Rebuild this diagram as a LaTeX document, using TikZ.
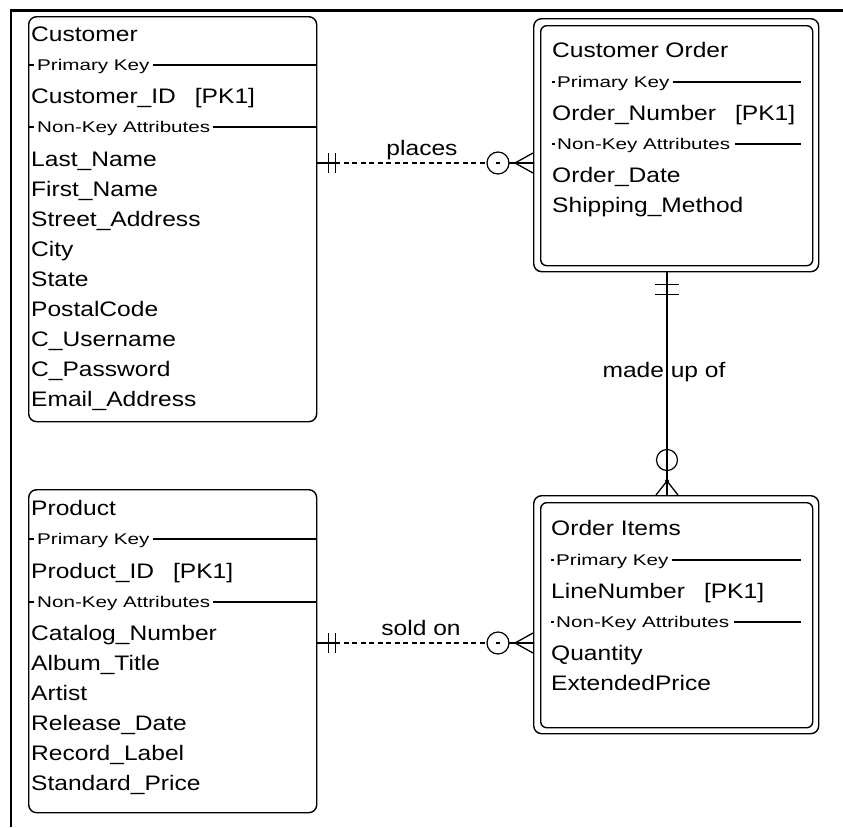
\documentclass[tikz,border=0pt]{standalone}
\usepackage{fontspec}
\setmainfont{Liberation Sans}[FakeStretch=1.17]
\newfontfamily\smallfam{Liberation Sans}[FakeStretch=1.33]
\usetikzlibrary{calc}
\begin{document}
\begin{tikzpicture}[x=1pt,y=-1pt,
  ent/.style={draw=black, line width=1.4pt, rounded corners=8pt, anchor=north west, inner sep=0pt},
  entin/.style={draw=black, line width=1.4pt, rounded corners=6pt, anchor=north west, inner sep=0pt},
  txt/.style={anchor=base west, inner sep=0pt, font=\fontsize{21pt}{25pt}\selectfont},
  sml/.style={anchor=base west, inner sep=0pt, font=\smallfam\fontsize{15.5pt}{18pt}\selectfont},
  sepline/.style={draw=black, line width=1.3pt},
  rel/.style={draw=black, line width=1.3pt},
  dsh/.style={draw=black, line width=1.3pt, dash pattern=on 5pt off 3.5pt},
  lbl/.style={anchor=base, inner sep=0pt, font=\fontsize{21pt}{25pt}\selectfont}
]
\useasboundingbox (0,0) rectangle (843,827);
\draw[line width=2.5pt, line join=miter] (11,827) -- (11,10.5) -- (843,10.5);

% ---------- Customer ----------
\node[ent, minimum width=288pt, minimum height=405pt] (cust) at (28,16) {};
\node[txt] (cust-t) at (31,41.5) {Customer};
\node[sml] (cust-pk) at (37,70) {Primary Key};
\draw[sepline] (28,65) -- (34,65);
\draw[sepline] ($(cust-pk.base east)+(3,-5)$) -- (316,65);
\node[txt] (cust-k) at (31,103) {Customer\_ID\hspace{19pt}[PK1]};
\node[sml] (cust-nk) at (37,132) {Non-Key Attributes};
\draw[sepline] (28,127) -- (34,127);
\draw[sepline] ($(cust-nk.base east)+(3,-5)$) -- (316,127);
\node[txt] (cust-a1) at (31,166) {Last\_Name};
\node[txt] (cust-a2) at (31,196) {First\_Name};
\node[txt] (cust-a3) at (31,226) {Street\_Address};
\node[txt] (cust-a4) at (31,256) {City};
\node[txt] (cust-a5) at (31,286) {State};
\node[txt] (cust-a6) at (31,316) {PostalCode};
\node[txt] (cust-a7) at (31,346) {C\_Username};
\node[txt] (cust-a8) at (31,376) {C\_Password};
\node[txt] (cust-a9) at (31,406) {Email\_Address};

% ---------- Product ----------
\node[ent, minimum width=288pt, minimum height=323pt] (prod) at (28,489) {};
\node[txt] (prod-t) at (31,515) {Product};
\node[sml] (prod-pk) at (37,544) {Primary Key};
\draw[sepline] (28,539) -- (34,539);
\draw[sepline] ($(prod-pk.base east)+(3,-5)$) -- (316,539);
\node[txt] (prod-k) at (31,578) {Product\_ID\hspace{19pt}[PK1]};
\node[sml] (prod-nk) at (37,607) {Non-Key Attributes};
\draw[sepline] (28,602) -- (34,602);
\draw[sepline] ($(prod-nk.base east)+(3,-5)$) -- (316,602);
\node[txt] (prod-a1) at (31,640) {Catalog\_Number};
\node[txt] (prod-a2) at (31,670) {Album\_Title};
\node[txt] (prod-a3) at (31,700) {Artist};
\node[txt] (prod-a4) at (31,730) {Release\_Date};
\node[txt] (prod-a5) at (31,760) {Record\_Label};
\node[txt] (prod-a6) at (31,790) {Standard\_Price};

% ---------- Customer Order ----------
\node[ent, minimum width=285pt, minimum height=253pt] (co) at (533,18) {};
\node[entin, minimum width=272pt, minimum height=240pt] (co-in) at (540,25) {};
\node[txt] (co-t) at (552,57) {Customer Order};
\node[sml] (co-pk) at (557,87) {Primary Key};
\draw[sepline] (552,82) -- (555,82);
\draw[sepline] ($(co-pk.base east)+(3,-5)$) -- (801,82);
\node[txt] (co-k) at (552,120) {Order\_Number\hspace{19pt}[PK1]};
\node[sml] (co-nk) at (557,149) {Non-Key Attributes};
\draw[sepline] (552,144) -- (555,144);
\draw[sepline] ($(co-nk.base east)+(5,-5)$) -- (801,144);
\node[txt] (co-a1) at (552,182) {Order\_Date};
\node[txt] (co-a2) at (552,212) {Shipping\_Method};

% ---------- Order Items ----------
\node[ent, minimum width=285pt, minimum height=238pt] (oi) at (533,495) {};
\node[entin, minimum width=272pt, minimum height=225pt] (oi-in) at (540,502) {};
\node[txt] (oi-t) at (551,535) {Order Items};
\node[sml] (oi-pk) at (556,565) {Primary Key};
\draw[sepline] (551,560) -- (554,560);
\draw[sepline] ($(oi-pk.base east)+(3,-5)$) -- (801,560);
\node[txt] (oi-k) at (551,598) {LineNumber\hspace{19pt}[PK1]};
\node[sml] (oi-nk) at (556,627) {Non-Key Attributes};
\draw[sepline] (551,622) -- (554,622);
\draw[sepline] ($(oi-nk.base east)+(5,-5)$) -- (801,622);
\node[txt] (oi-a1) at (551,660) {Quantity};
\node[txt] (oi-a2) at (551,690) {ExtendedPrice};

% ---------- places ----------
\coordinate (py) at (0,163);
\path (cust.east |- py) coordinate (pa) (co.west |- py) coordinate (pb);
\node[lbl] (places) at (422,155) {places};
\draw[rel] (pa) -- ($(pa)+(18,0)$);
\draw[rel] ($(pa)+(11,-10)$) -- ($(pa)+(11,10)$);
\draw[rel] ($(pa)+(18,-10)$) -- ($(pa)+(18,10)$);
\draw[dsh] ($(pa)+(18,0)$) -- ($(pb)+(-46,0)$);
\draw[rel, line width=1.2pt] ($(pb)+(-35,0)$) circle[radius=11pt];
\draw[rel] ($(pb)+(-37,0)$) -- ($(pb)+(-33,0)$);
\draw[rel] ($(pb)+(-24,0)$) -- ($(pb)+(-18,0)$);
\draw[rel] ($(pb)+(0,-10)$) -- ($(pb)+(-18,0)$) -- ($(pb)+(0,10)$);
\draw[rel] ($(pb)+(-18,0)$) -- (pb);

% ---------- sold on ----------
\coordinate (sy) at (0,643);
\path (prod.east |- sy) coordinate (sa) (oi.west |- sy) coordinate (sb);
\node[lbl] (soldon) at (421,635) {sold on};
\draw[rel] (sa) -- ($(sa)+(18,0)$);
\draw[rel] ($(sa)+(11,-10)$) -- ($(sa)+(11,10)$);
\draw[rel] ($(sa)+(18,-10)$) -- ($(sa)+(18,10)$);
\draw[dsh] ($(sa)+(18,0)$) -- ($(sb)+(-46,0)$);
\draw[rel, line width=1.2pt] ($(sb)+(-35,0)$) circle[radius=11pt];
\draw[rel] ($(sb)+(-37,0)$) -- ($(sb)+(-33,0)$);
\draw[rel] ($(sb)+(-24,0)$) -- ($(sb)+(-18,0)$);
\draw[rel] ($(sb)+(0,-10)$) -- ($(sb)+(-18,0)$) -- ($(sb)+(0,10)$);
\draw[rel] ($(sb)+(-18,0)$) -- (sb);

% ---------- made up of ----------
\coordinate (vx) at (667,0);
\path (vx |- co.south) coordinate (ma) (vx |- oi.north) coordinate (mb);
\node[lbl] (madeup) at (664,377) {made up of};
\draw[rel] (ma) -- (mb);
\draw[rel] ($(ma)+(-12,12)$) -- ($(ma)+(12,12)$);
\draw[rel] ($(ma)+(-12,22)$) -- ($(ma)+(12,22)$);
\draw[rel, line width=1.2pt] ($(mb)+(0,-35)$) circle[radius=10.5pt];
\draw[rel] ($(mb)+(-11,0)$) -- ($(mb)+(0,-14)$) -- ($(mb)+(11,0)$);
\fill[black] ($(mb)+(0,-14)$) circle[radius=2pt];
\end{tikzpicture}
\end{document}
